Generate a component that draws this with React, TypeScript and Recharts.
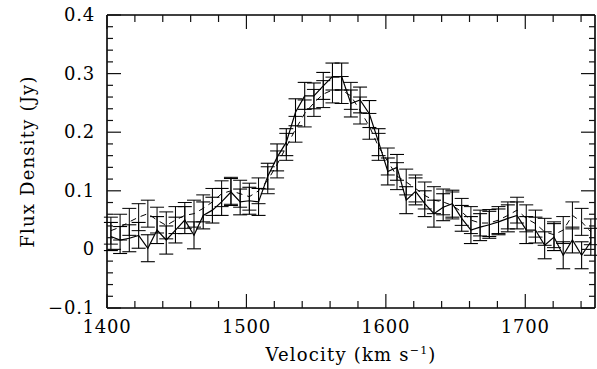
import { LineChart, Line, XAxis, YAxis, ErrorBar } from "recharts";

// channel velocities (km/s)
const velocity = [
  1402.8, 1409.4, 1416.0, 1422.7, 1429.3, 1435.9, 1442.5, 1449.1, 1455.8, 1462.4,
  1469.0, 1475.6, 1482.2, 1488.9, 1495.5, 1502.1, 1508.7, 1515.3, 1522.0, 1528.6,
  1535.2, 1541.8, 1548.4, 1555.1, 1561.7, 1568.3, 1574.9, 1581.5, 1588.2, 1594.8,
  1601.4, 1608.0, 1614.6, 1621.3, 1627.9, 1634.5, 1641.1, 1647.7, 1654.4, 1661.0,
  1667.6, 1674.2, 1680.8, 1687.5, 1694.1, 1700.7, 1707.3, 1713.9, 1720.6, 1727.2,
  1733.8, 1740.4, 1747.0,
];

// solid spectrum (Jy)
const fluxSolid = [
  0.022, 0.016, 0.019, 0.024, 0.002, 0.033, 0.016, 0.033, 0.05, 0.024,
  0.058, 0.067, 0.081, 0.098, 0.081, 0.083, 0.081, 0.125, 0.157, 0.183,
  0.234, 0.262, 0.262, 0.279, 0.295, 0.295, 0.249, 0.255, 0.231, 0.183,
  0.133, 0.14, 0.084, 0.099, 0.078, 0.061, 0.072, 0.078, 0.053, 0.033,
  0.038, 0.042, 0.047, 0.053, 0.058, 0.033, 0.033, 0.007, 0.021, -0.01,
  0.016, -0.01, 0.013,
];

const errSolid = [
  0.024, 0.023, 0.023, 0.022, 0.023, 0.023, 0.024, 0.022, 0.023, 0.023,
  0.023, 0.022, 0.023, 0.023, 0.022, 0.023, 0.023, 0.022, 0.023, 0.023,
  0.023, 0.023, 0.022, 0.023, 0.023, 0.023, 0.023, 0.022, 0.023, 0.023,
  0.023, 0.022, 0.023, 0.023, 0.022, 0.023, 0.023, 0.023, 0.022, 0.023,
  0.023, 0.023, 0.022, 0.023, 0.023, 0.023, 0.022, 0.023, 0.023, 0.023,
  0.022, 0.023, 0.023,
];

// dashed spectrum (Jy)
const fluxDashed = [
  0.032, 0.038, 0.047, 0.055, 0.061, 0.05, 0.041, 0.05, 0.058, 0.061,
  0.07, 0.081, 0.095, 0.1, 0.095, 0.09, 0.1, 0.118, 0.145, 0.175,
  0.205, 0.232, 0.25, 0.265, 0.272, 0.272, 0.262, 0.237, 0.21, 0.175,
  0.15, 0.125, 0.115, 0.104, 0.092, 0.084, 0.081, 0.075, 0.064, 0.05,
  0.045, 0.045, 0.05, 0.058, 0.067, 0.053, 0.044, 0.03, 0.025, 0.033,
  0.058, 0.047, 0.03,
];

const errDashed = [
  0.023, 0.022, 0.023, 0.023, 0.023, 0.022, 0.023, 0.023, 0.022, 0.023,
  0.023, 0.023, 0.022, 0.023, 0.023, 0.023, 0.022, 0.023, 0.023, 0.023,
  0.022, 0.023, 0.023, 0.023, 0.022, 0.023, 0.023, 0.023, 0.022, 0.023,
  0.023, 0.023, 0.022, 0.023, 0.023, 0.023, 0.022, 0.023, 0.023, 0.023,
  0.022, 0.023, 0.023, 0.023, 0.022, 0.023, 0.023, 0.023, 0.022, 0.023,
  0.023, 0.023, 0.022,
];

const xTicks = [
  1400, 1420, 1440, 1460, 1480, 1500, 1520, 1540, 1560, 1580, 1600, 1620,
  1640, 1660, 1680, 1700, 1720, 1740,
];
const yTicks = [
  -0.1, -0.08, -0.06, -0.04, -0.02, 0, 0.02, 0.04, 0.06, 0.08, 0.1, 0.12, 0.14,
  0.16, 0.18, 0.2, 0.22, 0.24, 0.26, 0.28, 0.3, 0.32, 0.34, 0.36, 0.38, 0.4,
];

const data = velocity.map((v, i) => ({
  v,
  solid: fluxSolid[i],
  solidErr: errSolid[i],
  dashed: fluxDashed[i],
  dashedErr: errDashed[i],
}));

const FONT = "'DejaVu Serif', serif";
const TICK = "#111";
const TW = 1.2;

const isMajorX = (v: number) => v % 100 === 0;
const isMajorY = (v: number) => Math.abs(v * 10 - Math.round(v * 10)) < 1e-6;
const fmtY = (v: number) => (v === 0 ? "0" : v < 0 ? "\u2212" + Math.abs(v).toFixed(1) : v.toFixed(1));

// ticks point inward, majors longer than minors
function BottomTick({ x, y, payload }: any) {
  const major = isMajorX(payload.value);
  return (
    <g>
      <path d={`M${x},${y}V${y - (major ? 14 : 7)}`} stroke={TICK} strokeWidth={TW} fill="none" />
      {major && (
        <text x={x} y={y + 25} textAnchor="middle" fontFamily={FONT} fontSize={18} letterSpacing={0.8} fill="#000">
          {payload.value}
        </text>
      )}
    </g>
  );
}

function TopTick({ x, y, payload }: any) {
  const major = isMajorX(payload.value);
  return <path d={`M${x},${y}V${y + (major ? 14 : 7)}`} stroke={TICK} strokeWidth={TW} fill="none" />;
}

function LeftTick({ x, y, payload }: any) {
  const major = isMajorY(payload.value);
  return (
    <g>
      <path d={`M${x},${y}H${x + (major ? 14 : 6)}`} stroke={TICK} strokeWidth={TW} fill="none" />
      {major && (
        <text x={x - 12} y={y + 6} textAnchor="end" fontFamily={FONT} fontSize={18} letterSpacing={0.8} fill="#000">
          {fmtY(payload.value)}
        </text>
      )}
    </g>
  );
}

function RightTick({ x, y, payload }: any) {
  const major = isMajorY(payload.value);
  return <path d={`M${x},${y}H${x - (major ? 14 : 6)}`} stroke={TICK} strokeWidth={TW} fill="none" />;
}

function XTitle({ viewBox }: any) {
  const cx = viewBox.x + viewBox.width / 2;
  return (
    <text x={cx} y={viewBox.y + 53} textAnchor="middle" fontFamily={FONT} fontSize={18} letterSpacing={1.2} fill="#000">
      Velocity (km s
      <tspan dy={-7} fontSize={11}>{"\u22121"}</tspan>
      <tspan dy={7}>)</tspan>
    </text>
  );
}

function YTitle({ viewBox }: any) {
  const cy = viewBox.y + viewBox.height / 2;
  const cx = 27;
  return (
    <text
      x={cx}
      y={cy}
      transform={`rotate(-90 ${cx} ${cy})`}
      textAnchor="middle"
      dominantBaseline="central"
      fontFamily={FONT}
      fontSize={18}
      letterSpacing={1.2}
      fill="#000"
    >
      Flux Density (Jy)
    </text>
  );
}

export default function App() {
  return (
    <div style={{ position: "absolute", left: 0, top: 0, background: "#fff" }}>
      <LineChart width={597} height={369} data={data} margin={{ top: 14, right: 1, bottom: 0, left: 0 }}>
        <XAxis
          xAxisId="b"
          dataKey="v"
          type="number"
          domain={[1400, 1750]}
          allowDataOverflow
          ticks={xTicks}
          interval={0}
          height={61}
          tickSize={0}
          tickMargin={0}
          tickLine={false}
          axisLine={{ stroke: "#000", strokeWidth: 1.6 }}
          tick={<BottomTick />}
          label={{ content: XTitle }}
        />
        <XAxis
          xAxisId="t"
          orientation="top"
          dataKey="v"
          type="number"
          domain={[1400, 1750]}
          allowDataOverflow
          ticks={xTicks}
          interval={0}
          height={1}
          tickSize={0}
          tickMargin={0}
          tickLine={false}
          axisLine={{ stroke: "#000", strokeWidth: 1.6 }}
          tick={<TopTick />}
        />
        <YAxis
          yAxisId="l"
          type="number"
          domain={[-0.1, 0.4]}
          allowDataOverflow
          ticks={yTicks}
          interval={0}
          width={107}
          tickSize={0}
          tickMargin={0}
          tickLine={false}
          axisLine={{ stroke: "#000", strokeWidth: 1.6 }}
          tick={<LeftTick />}
          label={{ content: YTitle }}
        />
        <YAxis
          yAxisId="r"
          orientation="right"
          type="number"
          domain={[-0.1, 0.4]}
          allowDataOverflow
          ticks={yTicks}
          interval={0}
          width={1}
          tickSize={0}
          tickMargin={0}
          tickLine={false}
          axisLine={{ stroke: "#000", strokeWidth: 1.6 }}
          tick={<RightTick />}
        />
        <Line
          xAxisId="t"
          yAxisId="r"
          dataKey="dashed"
          type="linear"
          stroke="#000"
          strokeWidth={1}
          strokeDasharray="6 5"
          dot={false}
          isAnimationActive={false}
        >
          <ErrorBar dataKey="dashedErr" width={7} stroke="#000" strokeWidth={1} direction="y" />
        </Line>
        <Line
          xAxisId="b"
          yAxisId="l"
          dataKey="solid"
          type="linear"
          stroke="#000"
          strokeWidth={1.2}
          dot={false}
          isAnimationActive={false}
        >
          <ErrorBar dataKey="solidErr" width={7} stroke="#000" strokeWidth={1.1} direction="y" />
        </Line>
      </LineChart>
    </div>
  );
}
